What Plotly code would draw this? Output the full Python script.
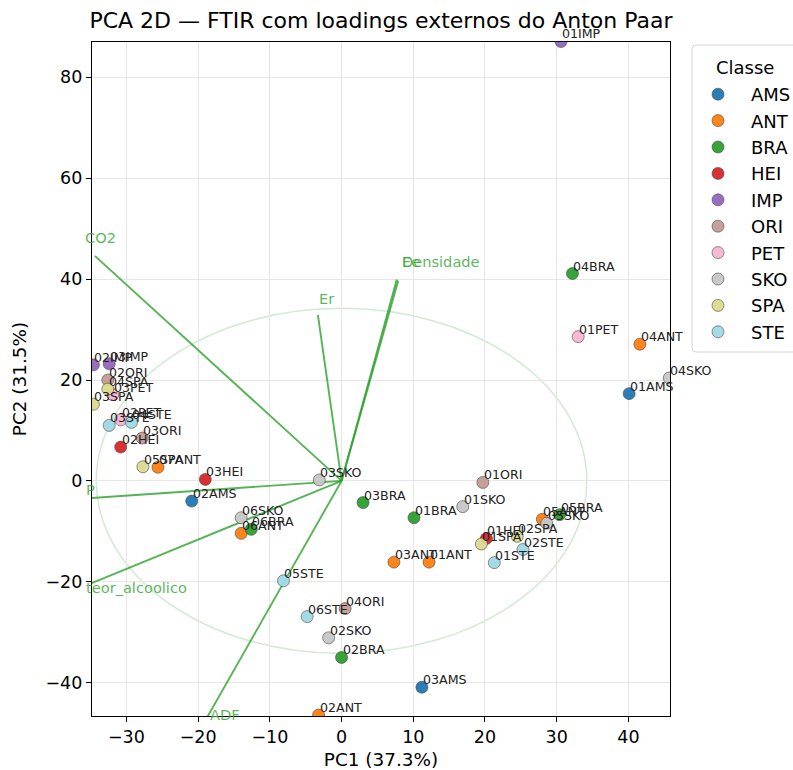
import plotly.graph_objects as go

# ---- scores (PC1, PC2) per sample ----
sample_names = [
    "01AMS", "02AMS", "03AMS",
    "01ANT", "02ANT", "03ANT", "04ANT", "05ANT", "06ANT", "07ANT",
    "01BRA", "02BRA", "03BRA", "04BRA", "05BRA", "06BRA",
    "01HEI", "02HEI", "03HEI",
    "01IMP", "02IMP", "03IMP",
    "01ORI", "02ORI", "03ORI", "04ORI",
    "01PET", "02PET", "03PET",
    "01SKO", "02SKO", "03SKO", "04SKO", "05SKO", "06SKO",
    "01SPA", "02SPA", "03SPA", "04SPA", "05SPA",
    "01STE", "02STE", "03STE", "04STE", "05STE", "06STE",
]
pc1 = [
    40.1, -20.9, 11.2,
    12.2, -3.2, 7.3, 41.6, 28.0, -14.0, -25.6,
    10.1, 0.0, 3.0, 32.2, 30.4, -12.6,
    20.2, -30.8, -19.0,
    30.6, -34.6, -32.4,
    19.7, -32.6, -27.8, 0.5,
    33.0, -30.8, -31.9,
    16.9, -1.8, -3.1, 45.7, 28.6, -14.0,
    19.5, 24.5, -34.6, -32.6, -27.7,
    21.3, 25.3, -32.4, -29.3, -8.1, -4.8,
]
pc2 = [
    17.3, -4.0, -40.9,
    -16.1, -46.4, -16.1, 27.1, -7.6, -10.4, 2.7,
    -7.3, -35.0, -4.3, 41.1, -6.7, -9.6,
    -11.4, 6.7, 0.3,
    87.1, 23.0, 23.2,
    -0.3, 20.0, 8.5, -25.3,
    28.6, 12.1, 17.1,
    -5.1, -31.1, 0.2, 20.4, -8.4, -7.3,
    -12.5, -11.0, 15.2, 18.2, 2.8,
    -16.2, -13.6, 11.0, 11.6, -19.8, -26.9,
]

classes = ["AMS", "ANT", "BRA", "HEI", "IMP", "ORI", "PET", "SKO", "SPA", "STE"]
# tab20 sampled at 10 evenly spaced positions
class_colors = ["#1f77b4", "#ff7f0e", "#2ca02c", "#d62728", "#9467bd",
                "#c49c94", "#f7b6d2", "#c7c7c7", "#dbdb8d", "#9edae5"]

# ---- external loadings (Anton Paar), scaled to score space ----
loading_names = ["CO2", "Er", "Densidade", "Ee", "P", "teor_alcoolico", "ADF"]
loading_pc1 = [-34.4, -3.3, 7.9, 7.7, -37.0, -37.0, -19.0]
loading_pc2 = [44.6, 32.9, 39.7, 39.9, -3.6, -21.5, -47.5]
loading_label_pc1 = [-35.9, -3.3, 8.3, 8.3, -35.8, -35.8, -18.5]
loading_label_pc2 = [48.2, 36.1, 43.5, 43.5, -1.8, -21.2, -46.4]
loading_radius = 34.2

var_pc1, var_pc2 = 37.3, 31.5
x_range = [-34.8, 45.8]
y_range = [-46.6, 87.0]

FONT = "DejaVu Sans"
GREEN_LINE = "rgba(44,160,44,0.8)"
GREEN_TEXT = "rgba(60,170,60,0.85)"

# figure geometry (pixels)
W, H = 793, 770
ML, MR, MT, MB = 92, 123, 42, 54
PW, PH = W - ML - MR, H - MT - MB


def to_paper_x(v):
    return (v - x_range[0]) / (x_range[1] - x_range[0])


def to_paper_y(v):
    return (v - y_range[0]) / (y_range[1] - y_range[0])


def px_to_paper_x(p):
    return (p - ML) / PW


def px_to_paper_y(p):
    return (H - MB - p) / PH


fig = go.Figure()

# loading vectors (drawn under the score markers)
for name, lx, ly in zip(loading_names, loading_pc1, loading_pc2):
    fig.add_trace(go.Scatter(
        x=[0, lx], y=[0, ly], mode="lines",
        line=dict(color=GREEN_LINE, width=1.9),
        showlegend=False, hoverinfo="skip",
    ))

# score markers, one trace per class
for cls, col in zip(classes, class_colors):
    xs = [x for n, x in zip(sample_names, pc1) if n[2:] == cls]
    ys = [y for n, y in zip(sample_names, pc2) if n[2:] == cls]
    names = [n for n in sample_names if n[2:] == cls]
    fig.add_trace(go.Scatter(
        x=xs, y=ys, mode="markers", name=cls, text=names,
        marker=dict(size=12, color=col, opacity=0.95,
                    line=dict(color="rgba(60,60,60,0.85)", width=0.7)),
        cliponaxis=True,
    ))

annotations = []
# sample labels
for n, x, y in zip(sample_names, pc1, pc2):
    annotations.append(dict(
        x=to_paper_x(x), y=to_paper_y(y), xref="paper", yref="paper",
        text=n, showarrow=False, xanchor="left", yanchor="middle",
        xshift=0, yshift=7.5, borderpad=0,
        font=dict(family=FONT, size=12.6, color="#222222"),
    ))
# loading labels
for name, tx, ty in zip(loading_names, loading_label_pc1, loading_label_pc2):
    annotations.append(dict(
        x=to_paper_x(tx), y=to_paper_y(ty), xref="paper", yref="paper",
        text=name, showarrow=False, xanchor="left", yanchor="middle",
        borderpad=0, font=dict(family=FONT, size=14.6, color=GREEN_TEXT),
    ))
# legend title
annotations.append(dict(
    x=px_to_paper_x(745), y=px_to_paper_y(67), xref="paper", yref="paper",
    text="Classe", showarrow=False, xanchor="center", yanchor="middle",
    font=dict(family=FONT, size=18, color="black"),
))

# legend frame (rounded rectangle)
bx0, bx1, by0, by1, rr = 692, 805, 45, 352, 4
x0p, x1p = px_to_paper_x(bx0), px_to_paper_x(bx1)
y0p, y1p = px_to_paper_y(by1), px_to_paper_y(by0)
rx, ry = rr / PW, rr / PH
legend_frame = (
    f"M {x0p + rx},{y1p} L {x1p - rx},{y1p} Q {x1p},{y1p} {x1p},{y1p - ry} "
    f"L {x1p},{y0p + ry} Q {x1p},{y0p} {x1p - rx},{y0p} "
    f"L {x0p + rx},{y0p} Q {x0p},{y0p} {x0p},{y0p + ry} "
    f"L {x0p},{y1p - ry} Q {x0p},{y1p} {x0p + rx},{y1p} Z"
)

fig.update_layout(
    width=W, height=H,
    margin=dict(l=ML, r=MR, t=MT, b=MB, autoexpand=False),
    paper_bgcolor="white", plot_bgcolor="white",
    font=dict(family=FONT, size=18, color="black"),
    title=dict(text="PCA 2D — FTIR com loadings externos do Anton Paar",
               x=0.5, xref="paper", xanchor="center",
               y=1 - 20 / H, yref="container", yanchor="middle",
               font=dict(family=FONT, size=22, color="black")),
    xaxis=dict(range=x_range, tickvals=[-30, -20, -10, 0, 10, 20, 30, 40],
               showgrid=True, gridcolor="#e6e6e6", gridwidth=1, automargin=False,
               zeroline=False, showline=True, linecolor="black", linewidth=1.2,
               mirror=True, ticks="outside", ticklen=5, tickcolor="black",
               tickfont=dict(family=FONT, size=17.5),
               title=dict(text=f"PC1 ({var_pc1}%)", standoff=8,
                          font=dict(family=FONT, size=18.4))),
    yaxis=dict(range=y_range, tickvals=[-40, -20, 0, 20, 40, 60, 80],
               showgrid=True, gridcolor="#e6e6e6", gridwidth=1, automargin=False,
               zeroline=False, showline=True, linecolor="black", linewidth=1.2,
               mirror=True, ticks="outside", ticklen=5, tickcolor="black",
               tickfont=dict(family=FONT, size=17.5),
               title=dict(text=f"PC2 ({var_pc2}%)", standoff=14,
                          font=dict(family=FONT, size=18.4))),
    legend=dict(
        x=px_to_paper_x(685), xanchor="left",
        y=px_to_paper_y(76), yanchor="top",
        borderwidth=0, bgcolor="rgba(0,0,0,0)",
        font=dict(family=FONT, size=18),
        itemwidth=56,
    ),
    shapes=[
        dict(type="circle", xref="x", yref="y",
             x0=-loading_radius, x1=loading_radius,
             y0=-loading_radius, y1=loading_radius,
             line=dict(color="rgba(44,160,44,0.22)", width=1.5),
             layer="below"),
        dict(type="path", xref="paper", yref="paper", path=legend_frame,
             line=dict(color="#d4d4d4", width=1), fillcolor="rgba(255,255,255,0.8)",
             layer="below"),
    ],
    annotations=annotations,
    showlegend=True,
)

fig.write_html("out.html")
